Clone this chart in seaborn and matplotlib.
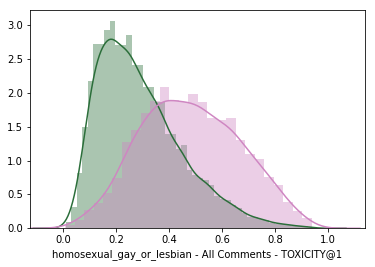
import numpy as np
import pandas as pd
import seaborn as sns
import matplotlib
matplotlib.use("Agg")
import matplotlib.pyplot as plt

# histogram (density per bin)
green_start, green_width = 0.010, 0.0208
green_heights = [0.10, 0.32, 0.82, 1.50, 2.17, 2.72, 2.72, 2.93, 3.06, 2.71,
                 2.71, 2.86, 2.41, 2.41, 2.09, 2.09, 1.87, 1.87, 1.39, 1.39,
                 1.17, 1.23, 0.86, 0.79, 0.74, 0.72, 0.64, 0.47, 0.44, 0.42,
                 0.34, 0.30, 0.22, 0.17, 0.17, 0.14, 0.12, 0.08, 0.07, 0.07,
                 0.05, 0.04, 0.03, 0.03, 0.02]

pink_start, pink_width = 0.0065, 0.0359
pink_heights = [0.05, 0.12, 0.27, 0.38, 0.52, 0.74, 1.28, 1.45, 1.70, 1.88,
                2.09, 1.90, 1.87, 1.99, 1.87, 1.63, 1.60, 1.63, 1.31, 1.10,
                1.03, 0.76, 0.64, 0.39, 0.25, 0.15]

xlabel = "homosexual_gay_or_lesbian - All Comments - TOXICITY@1"
green = "#2b6e3a"
pink = "#cf86c2"


# bins -> frame with centers and weights
def make_bins(start, width, heights):
    edges = start + width * np.arange(len(heights) + 1)
    centers = (edges[:-1] + edges[1:]) / 2
    return edges.tolist(), pd.DataFrame({"x": centers, "w": heights})


fig = plt.figure(figsize=(375 / 72, 267 / 72), dpi=72)
ax = fig.add_axes([0.08, 0.145, 0.8933, 0.8175])

for start, width, heights, color, bw in [
    (green_start, green_width, green_heights, green, 0.026),
    (pink_start, pink_width, pink_heights, pink, 0.045),
]:
    edges, df = make_bins(start, width, heights)
    sns.histplot(data=df, x="x", weights="w", bins=edges, stat="count",
                 element="step", fill=True, color=color, alpha=0.4,
                 linewidth=0, ax=ax)
    # kernel width as a fraction of the weighted spread
    mean = np.average(df["x"], weights=df["w"])
    std = np.sqrt(np.average((df["x"] - mean) ** 2, weights=df["w"]))
    sns.kdeplot(data=df, x="x", weights="w", bw_method=bw / std,
                color=color, linewidth=1.5, ax=ax)

ax.set_xlim(-0.126, 1.141)
ax.set_ylim(0, 3.226)
ax.set_xlabel(xlabel, fontsize=10)
ax.set_ylabel("")
ax.tick_params(labelsize=10)

plt.savefig("out.png", dpi=72)
